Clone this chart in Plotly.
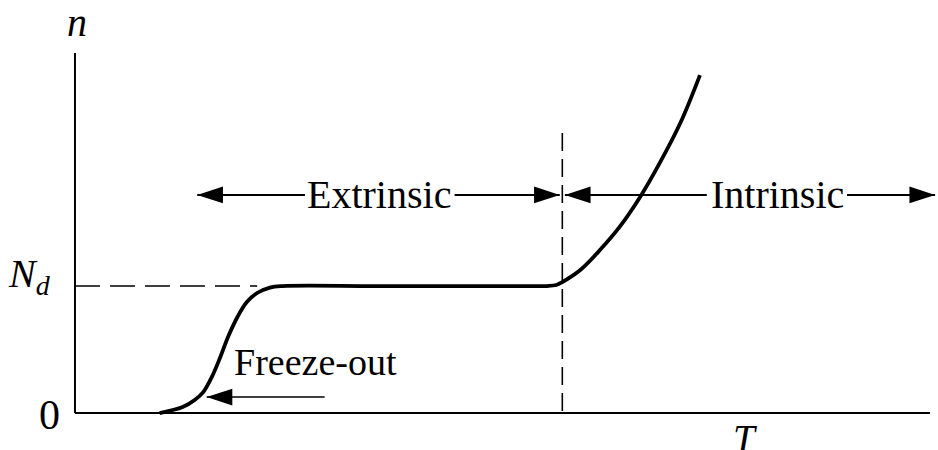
import plotly.graph_objects as go

# ---- data (T in arbitrary units, n relative to N_d = 1) ----
curve_T = [0.99, 1.26, 1.40, 1.50, 1.60, 1.70, 1.79, 1.90, 2.01, 2.13, 2.28, 2.43,
           3.50, 4.50, 5.20, 5.52, 5.63, 5.70, 5.91, 6.14, 6.37, 6.61, 6.84, 7.08, 7.31]
curve_n = [0.0, 0.047, 0.102, 0.165, 0.283, 0.441, 0.598, 0.756, 0.874, 0.945, 0.988, 1.0,
           1.0, 1.0, 1.0, 1.0, 1.008, 1.031, 1.126, 1.283, 1.465, 1.701, 1.969, 2.283, 2.661]

Nd = 1.0
T_axis_end = 10.0
n_axis_end = 2.835
Nd_dash_end = 2.13          # horizontal dashed line at N_d ends here
T_boundary = 5.70           # extrinsic/intrinsic boundary
boundary_top = 2.205

arrow_level = 1.717
ext_seg_T = [1.43, 2.69, None, 4.44, 5.67]
int_seg_T = [5.73, 7.39, None, 9.03, 10.06]
freeze_level = 0.126
freeze_seg_T = [2.92, 1.54]

head_T = [1.43, 5.67, 5.73, 10.06, 1.54]
head_n = [arrow_level, arrow_level, arrow_level, arrow_level, freeze_level]
head_angle = [-90, 90, -90, 90, -90]

FONT = "Liberation Serif"
fig = go.Figure()

# axes
fig.add_trace(go.Scatter(x=[0, T_axis_end], y=[0, 0], mode="lines",
                         line=dict(color="black", width=2), hoverinfo="skip"))
fig.add_trace(go.Scatter(x=[0, 0], y=[0, n_axis_end], mode="lines",
                         line=dict(color="black", width=2), hoverinfo="skip"))
# dashed guides
fig.add_trace(go.Scatter(x=[0, Nd_dash_end], y=[Nd, Nd], mode="lines",
                         line=dict(color="black", width=1.6, dash="25px,10px"), hoverinfo="skip"))
fig.add_trace(go.Scatter(x=[T_boundary, T_boundary], y=[boundary_top, 0], mode="lines",
                         line=dict(color="black", width=1.6, dash="18px,8px"), hoverinfo="skip"))
# curve
fig.add_trace(go.Scatter(x=curve_T, y=curve_n, mode="lines",
                         line=dict(color="black", width=3.8, shape="spline", smoothing=1.0),
                         hoverinfo="skip"))
# arrow lines
fig.add_trace(go.Scatter(x=ext_seg_T, y=[arrow_level] * len(ext_seg_T), mode="lines",
                         line=dict(color="black", width=2), hoverinfo="skip", connectgaps=False))
fig.add_trace(go.Scatter(x=int_seg_T, y=[arrow_level] * len(int_seg_T), mode="lines",
                         line=dict(color="black", width=2), hoverinfo="skip", connectgaps=False,
                         cliponaxis=False))
fig.add_trace(go.Scatter(x=freeze_seg_T, y=[freeze_level] * 2, mode="lines",
                         line=dict(color="black", width=1.6), hoverinfo="skip"))
# arrow heads
fig.add_trace(go.Scatter(x=head_T, y=head_n, mode="markers",
                         marker=dict(symbol="arrow", size=27, angle=head_angle, color="black",
                                     line=dict(width=0)),
                         hoverinfo="skip", cliponaxis=False))

ann = [
    dict(x=3.556, y=arrow_level, text="Extrinsic", xanchor="center", yanchor="middle", size=40),
    dict(x=8.216, y=arrow_level, text="Intrinsic", xanchor="center", yanchor="middle", size=40),
    dict(x=1.836, y=0.40, text="Freeze-out", xanchor="left", yanchor="middle", size=38),
    dict(x=0.02, y=3.075, text="<i>n</i>", xanchor="center", yanchor="middle", size=40),
    dict(x=-0.152, y=-0.016, text="0", xanchor="right", yanchor="middle", size=42),
    dict(x=-0.257, y=1.08, text="<i>N<sub>d</sub></i>", xanchor="right", yanchor="middle", size=40),
    dict(x=7.84, y=-0.012, text="<i>T</i>", xanchor="center", yanchor="top", size=39),
]
annotations = []
for a in ann:
    s = a.pop("size")
    a.update(showarrow=False, font=dict(family=FONT, size=s, color="black"))
    annotations.append(a)

fig.update_layout(
    width=938, height=450,
    margin=dict(l=0, r=0, t=0, b=0),
    paper_bgcolor="white", plot_bgcolor="white",
    showlegend=False,
    xaxis=dict(range=[-0.877, 10.094], visible=False, fixedrange=True),
    yaxis=dict(range=[-0.291, 3.252], visible=False, fixedrange=True),
    annotations=annotations,
)
fig.write_html("out.html", config={"displayModeBar": False},
               post_script="document.body.style.margin='0px';")
